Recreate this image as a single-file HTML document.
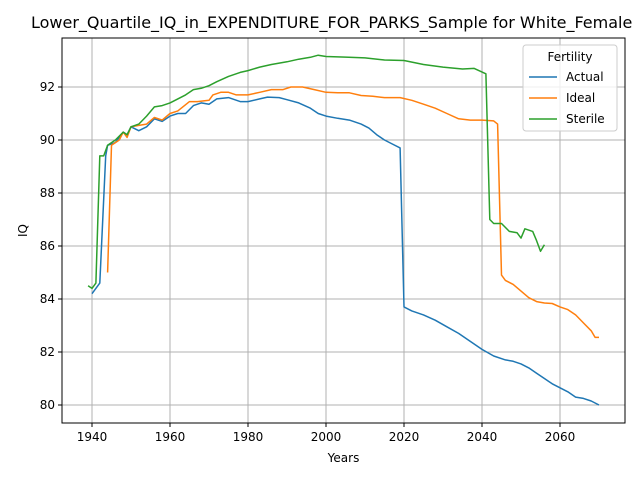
<!DOCTYPE html>
<html><head><meta charset="utf-8"><style>body{margin:0;background:#fff}svg{display:block;font-family:"DejaVu Sans","Liberation Sans",sans-serif}</style></head>
<body>
<svg id="chart" width="640" height="480"></svg>
<script>
const xTicks=[1940,1960,1980,2000,2020,2040,2060];
const yTicks=[80,82,84,86,88,90,92];
const seriesNames=["Actual","Ideal","Sterile"];
const actualYears=[1940,1942,1943.5,1944,1946,1948,1949,1950,1952,1954,1956,1958,1960,1962,1964,1966,1968,1970,1972,1975,1978,1980,1983,1985,1988,1990,1993,1996,1998,2000,2003,2006,2009,2011,2013,2015,2017,2019,2020,2022,2025,2028,2031,2034,2037,2040,2043,2046,2048,2050,2052,2054,2056,2058,2060,2062,2064,2066,2068,2070];
const actualValues=[84.2,84.6,89.4,89.8,89.9,90.3,90.2,90.5,90.35,90.5,90.8,90.7,90.9,91.0,91.0,91.3,91.4,91.35,91.55,91.6,91.45,91.45,91.55,91.62,91.6,91.52,91.4,91.2,91.0,90.9,90.82,90.75,90.6,90.45,90.2,90.0,89.85,89.7,83.7,83.55,83.4,83.2,82.95,82.7,82.4,82.1,81.85,81.7,81.65,81.55,81.4,81.2,81.0,80.8,80.65,80.5,80.3,80.25,80.15,80.0];
const idealYears=[1944,1945,1947,1948,1949,1950,1952,1954,1956,1958,1960,1962,1965,1967,1970,1971,1973,1975,1977,1980,1983,1986,1989,1991,1994,1997,2000,2003,2006,2009,2012,2015,2019,2022,2025,2028,2031,2034,2037,2040,2043,2044,2045,2046,2048,2050,2052,2054,2056,2058,2060,2062,2064,2066,2068,2069,2070];
const idealValues=[85.0,89.8,90.0,90.3,90.1,90.5,90.55,90.6,90.85,90.75,91.0,91.1,91.45,91.45,91.5,91.7,91.8,91.8,91.7,91.7,91.8,91.9,91.9,92.0,92.0,91.9,91.8,91.78,91.78,91.68,91.65,91.6,91.6,91.5,91.35,91.2,91.0,90.8,90.75,90.75,90.72,90.6,84.9,84.7,84.55,84.3,84.05,83.9,83.85,83.83,83.7,83.6,83.4,83.1,82.8,82.55,82.55];
const sterileYears=[1939,1940,1941,1942,1943,1944,1946,1948,1949,1950,1952,1954,1956,1958,1960,1962,1964,1966,1968,1970,1972,1975,1978,1980,1983,1986,1990,1993,1996,1998,2000,2005,2010,2015,2020,2025,2030,2035,2038,2041,2042,2043,2045,2047,2049,2050,2051,2053,2054,2055,2056];
const sterileValues=[84.5,84.4,84.6,89.4,89.4,89.8,90.0,90.3,90.2,90.5,90.6,90.9,91.25,91.3,91.4,91.55,91.7,91.9,91.95,92.05,92.2,92.4,92.55,92.62,92.75,92.85,92.95,93.05,93.12,93.2,93.15,93.13,93.1,93.02,93.0,92.85,92.75,92.68,92.7,92.5,87.0,86.85,86.85,86.55,86.5,86.3,86.65,86.55,86.2,85.8,86.05];
const colors=["#1f77b4","#ff7f0e","#2ca02c"];
const L=62,R=625,T=38,B=423;
const xs=y=>92+(y-1940)*3.9;
const ys=v=>405-(v-80)*26.5;
const svg=document.getElementById('chart');
const NS="http://www.w3.org/2000/svg";
function mk(t,a,p){const e=document.createElementNS(NS,t);for(const k in a)e.setAttribute(k,a[k]);(p||svg).appendChild(e);return e;}
let t=mk('text',{x:31,y:28,'text-anchor':'start','font-size':16,fill:'#000'});t.textContent="Lower_Quartile_IQ_in_EXPENDITURE_FOR_PARKS_Sample for White_Female";


xTicks.forEach(v=>{const x=xs(v);
let g=mk('line',{x1:x,x2:x,y1:T,y2:B,stroke:'#b0b0b0','stroke-width':1});


mk('line',{x1:x,x2:x,y1:B,y2:B+4,stroke:'#000'});
let l=mk('text',{x:x,y:B+18,'text-anchor':'middle','font-size':12});l.textContent=v;

});
yTicks.forEach(v=>{const y=ys(v);
let g=mk('line',{x1:L,x2:R,y1:y,y2:y,stroke:'#b0b0b0','stroke-width':1});


mk('line',{x1:L-4,x2:L,y1:y,y2:y,stroke:'#000'});
let l=mk('text',{x:L-7,y:y+4,'text-anchor':'end','font-size':12});l.textContent=v;

});
const sets=[[actualYears,actualValues],[idealYears,idealValues],[sterileYears,sterileValues]];
sets.forEach((s,i)=>{const d=s[0].map((yr,j)=>(j?'L':'M')+xs(yr).toFixed(1)+','+ys(s[1][j]).toFixed(1)).join('');
const p=mk('path',{d:d,fill:'none',stroke:colors[i],'stroke-width':1.5,'stroke-linejoin':'round'});

});
let f=mk('rect',{x:L,y:T,width:R-L,height:B-T,fill:'none',stroke:'#000','stroke-width':1});


let xl=mk('text',{x:(L+R)/2,y:462,'text-anchor':'middle','font-size':12});xl.textContent="Years";


let yl=mk('text',{x:27,y:(T+B)/2,'text-anchor':'middle','font-size':12,transform:`rotate(-90 27 ${(T+B)/2})`});yl.textContent="IQ";


const lg=mk('g',{});


mk('rect',{x:523,y:45,width:94,height:86,rx:3,fill:'#fff','fill-opacity':0.8,stroke:'#ccc'},lg);
let lt=mk('text',{x:570,y:61,'text-anchor':'middle','font-size':12},lg);lt.textContent="Fertility";
seriesNames.forEach((n,i)=>{const y=77+i*21;
const e=mk('g',{},lg);


mk('line',{x1:529,x2:557,y1:y,y2:y,stroke:colors[i],'stroke-width':1.5},e);
const tx=mk('text',{x:566,y:y+4,'font-size':12},e);tx.textContent=n;});
</script>
</body></html>
